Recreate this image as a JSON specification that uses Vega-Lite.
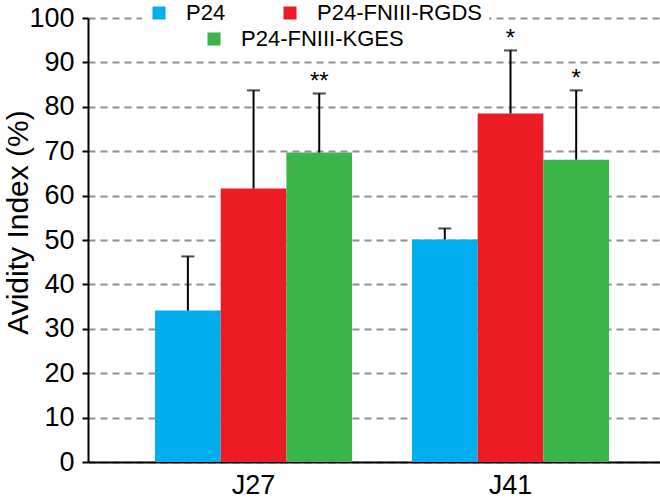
{
  "$schema": "https://vega.github.io/schema/vega-lite/v6.json",
  "width": 572,
  "height": 444,
  "autosize": {"type": "none"},
  "padding": {"left": 88, "top": 18, "right": 0, "bottom": 36},
  "background": "white",
  "config": {
    "view": {"stroke": null},
    "font": "Liberation Sans",
    "axis": {"labelFont": "Liberation Sans", "titleFont": "Liberation Sans"},
    "legend": {"labelFont": "Liberation Sans"}
  },
  "data": {
    "values": [
      {"group": "J27", "series": "P24", "value": 34.1, "upper": 46.3, "sig": ""},
      {"group": "J27", "series": "P24-FNIII-RGDS", "value": 61.6, "upper": 83.7, "sig": ""},
      {"group": "J27", "series": "P24-FNIII-KGES", "value": 69.7, "upper": 83.0, "sig": "**"},
      {"group": "J41", "series": "P24", "value": 50.1, "upper": 52.6, "sig": ""},
      {"group": "J41", "series": "P24-FNIII-RGDS", "value": 78.5, "upper": 92.7, "sig": "*"},
      {"group": "J41", "series": "P24-FNIII-KGES", "value": 68.1, "upper": 83.7, "sig": "*"}
    ]
  },
  "encoding": {
    "x": {
      "field": "group", "type": "nominal",
      "scale": {"paddingInner": 0.233, "paddingOuter": 0.2296, "align": 0.568},
      "axis": {
        "title": null, "labelAngle": 0, "labelFontSize": 27, "labelColor": "black",
        "labelPadding": 10, "ticks": false, "domainColor": "black", "domainWidth": 2, "grid": false
      }
    },
    "xOffset": {
      "field": "series", "type": "nominal",
      "scale": {"domain": ["P24", "P24-FNIII-RGDS", "P24-FNIII-KGES"], "paddingInner": 0, "paddingOuter": 0}
    }
  },
  "layer": [
    {
      "transform": [{"filter": "datum.series !== 'P24-FNIII-KGES'"}],
      "mark": {"type": "bar"},
      "encoding": {
        "y": {
          "field": "value", "type": "quantitative",
          "scale": {"domain": [0, 100], "nice": false},
          "axis": {
            "title": "Avidity Index (%)", "titleFontSize": 30, "titleFontWeight": "normal", "titleColor": "black",
            "titleX": -61, "titleY": 204, "titleBaseline": "alphabetic",
            "values": [0, 10, 20, 30, 40, 50, 60, 70, 80, 90, 100],
            "labelFontSize": 27, "labelColor": "black", "labelPadding": 8,
            "tickSize": 6, "tickColor": "black", "tickWidth": 2,
            "domainColor": "black", "domainWidth": 2,
            "grid": true, "gridDash": [7, 5], "gridColor": "#8f8f8f", "gridWidth": 2
          }
        },
        "color": {
          "field": "series", "type": "nominal",
          "scale": {"domain": ["P24", "P24-FNIII-RGDS"], "range": ["#00AEEF", "#ED1C24"]},
          "legend": {
            "title": null, "orient": "none", "direction": "horizontal",
            "legendX": 54, "legendY": -22,
            "symbolType": "square", "symbolSize": 170, "symbolStrokeWidth": 0,
            "labelFontSize": 22, "labelColor": "black", "labelOffset": 16, "labelLimit": 0, "columnPadding": 53,
            "fillColor": "white", "padding": 6
          }
        }
      }
    },
    {
      "transform": [{"filter": "datum.series === 'P24-FNIII-KGES'"}],
      "mark": {"type": "bar"},
      "encoding": {
        "y": {"field": "value", "type": "quantitative"},
        "color": {
          "field": "series", "type": "nominal",
          "scale": {"domain": ["P24-FNIII-KGES"], "range": ["#39B54A"]},
          "legend": {
            "title": null, "orient": "none", "direction": "horizontal",
            "legendX": 109, "legendY": 4,
            "symbolType": "square", "symbolSize": 170, "symbolStrokeWidth": 0,
            "labelFontSize": 22, "labelColor": "black", "labelOffset": 16, "labelLimit": 0,
            "fillColor": "white", "padding": 6
          }
        }
      }
    },
    {
      "mark": {"type": "rule", "color": "black", "strokeWidth": 2},
      "encoding": {
        "y": {"field": "value", "type": "quantitative"},
        "y2": {"field": "upper"}
      }
    },
    {
      "mark": {"type": "tick", "color": "black", "thickness": 2, "size": 13, "orient": "horizontal"},
      "encoding": {
        "y": {"field": "upper", "type": "quantitative"}
      }
    },
    {
      "mark": {"type": "text", "color": "black", "fontSize": 24, "baseline": "alphabetic", "dy": -4},
      "encoding": {
        "y": {"field": "upper", "type": "quantitative"},
        "text": {"field": "sig"}
      }
    }
  ],
  "resolve": {"scale": {"color": "independent"}, "legend": {"color": "independent"}}
}
